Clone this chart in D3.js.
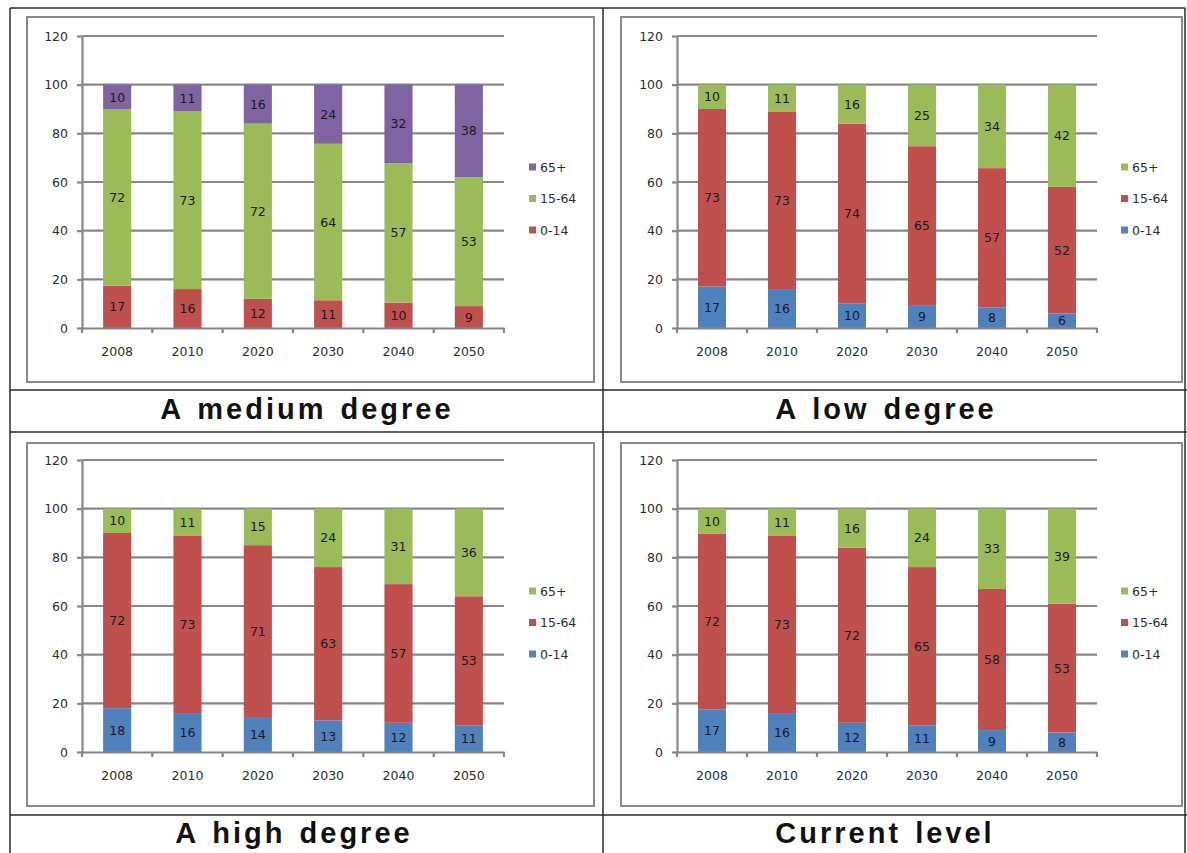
<!DOCTYPE html>
<html>
<head>
<meta charset="utf-8">
<script src="https://cdn.jsdelivr.net/npm/d3@7"></script>
<style>
  html, body { margin: 0; padding: 0; background: #fff; }
  svg { display: block; }
</style>
</head>
<body>
<svg id="chart" width="1187" height="853"></svg>
<script>
// ---------- DATA ----------
const years = ["2008", "2010", "2020", "2030", "2040", "2050"];
const yTicks = [0, 20, 40, 60, 80, 100, 120];
const groups = ["0-14", "15-64", "65+"];
const titles = ["A medium degree", "A low degree", "A high degree", "Current level"];

// A medium degree
const mediumKids = [17.4, 16, 12, 11.4, 10.4, 9];
const mediumWork = [72.4, 73, 72, 64.3, 57.3, 53];
const mediumOld  = [10.2, 11, 16, 24.3, 32.3, 38];
// A low degree
const lowKids = [17, 16, 10, 9.4, 8.4, 6];
const lowWork = [73, 73, 74, 65.3, 57.3, 52];
const lowOld  = [10, 11, 16, 25.3, 34.3, 42];
// A high degree
const highKids = [18, 16, 14, 13, 12, 11];
const highWork = [72, 73, 71, 63, 57, 53];
const highOld  = [10, 11, 15, 24, 31, 36];
// Current level
const currentKids = [17.4, 16, 12, 11, 9, 8];
const currentWork = [72.4, 73, 72, 65, 58, 53];
const currentOld  = [10.2, 11, 16, 24, 33, 39];

// colours per panel (0-14, 15-64, 65+)
const mediumColors = ["#C0504D", "#9BBB59", "#8064A2"];
const otherColors  = ["#4F81BD", "#C0504D", "#9BBB59"];

// ---------- LAYOUT ----------
const svg = d3.select("#chart");
const cols = [
  { cellX0: 10, cellX1: 603, boxX0: 27, boxX1: 594, axX0: 82, axX1: 504, legX: 529 },
  { cellX0: 603, cellX1: 1185, boxX0: 621, boxX1: 1182, axX0: 677, axX1: 1097, legX: 1121 }
];
const rows = [
  { boxY0: 17, boxY1: 382, y0: 328, y120: 36, legY: 167, titleY: 419 },
  { boxY0: 443, boxY1: 806, y0: 752, y120: 460, legY: 591, titleY: 843 }
];
const panels = [
  { title: titles[0], series: [mediumKids, mediumWork, mediumOld], colors: mediumColors, col: 0, row: 0, titleCx: 307 },
  { title: titles[1], series: [lowKids, lowWork, lowOld], colors: otherColors, col: 1, row: 0, titleCx: 886 },
  { title: titles[2], series: [highKids, highWork, highOld], colors: otherColors, col: 0, row: 1, titleCx: 294 },
  { title: titles[3], series: [currentKids, currentWork, currentOld], colors: otherColors, col: 1, row: 1, titleCx: 885 }
];

const gridColor = "#878787";
const tickFont = "DejaVu Sans, Verdana, sans-serif";

// ---------- TABLE LINES ----------
const tbl = svg.append("g").attr("stroke", "#2a2a2a").attr("stroke-width", 1.5).attr("fill", "none");
tbl.append("line").attr("x1", 10).attr("x2", 1185).attr("y1", 8).attr("y2", 8);
[390, 432, 815].forEach(y => tbl.append("line").attr("x1", 10).attr("x2", 1187).attr("y1", y).attr("y2", y));
[10, 603, 1185].forEach(x => tbl.append("line").attr("x1", x).attr("x2", x).attr("y1", 8).attr("y2", 853));

// ---------- PANELS ----------
panels.forEach(p => {
  const c = cols[p.col], r = rows[p.row];
  const g = svg.append("g");

  // inner chart box
  g.append("rect")
    .attr("x", c.boxX0).attr("y", r.boxY0)
    .attr("width", c.boxX1 - c.boxX0).attr("height", r.boxY1 - r.boxY0)
    .attr("fill", "#fff").attr("stroke", "#8a8a8a").attr("stroke-width", 2);

  const x = d3.scaleBand().domain(years).range([c.axX0, c.axX1])
    .paddingInner(0.6).paddingOuter(0.3);
  const y = d3.scaleLinear().domain([0, 120]).range([r.y0, r.y120]);

  // gridlines
  g.append("g").selectAll("line").data(yTicks.filter(t => t > 0)).join("line")
    .attr("x1", c.axX0).attr("x2", c.axX1)
    .attr("y1", d => y(d)).attr("y2", d => y(d))
    .attr("stroke", gridColor).attr("stroke-width", 2.2);

  // stacked data
  const rowsData = years.map((yr, i) => {
    const o = { year: yr };
    groups.forEach((gr, k) => o[gr] = p.series[k][i]);
    return o;
  });
  const stack = d3.stack().keys(groups)(rowsData);

  const layers = g.append("g").selectAll("g").data(stack).join("g")
    .attr("fill", (d, k) => p.colors[k]);
  layers.selectAll("rect").data(d => d).join("rect")
    .attr("x", d => x(d.data.year))
    .attr("width", x.bandwidth())
    .attr("y", d => y(d[1]))
    .attr("height", d => y(d[0]) - y(d[1]));

  // data labels
  const lab = g.append("g").selectAll("g").data(stack).join("g");
  lab.selectAll("text").data(d => d.map(v => ({ v, key: d.key }))).join("text")
    .attr("x", d => x(d.v.data.year) + x.bandwidth() / 2)
    .attr("y", d => (y(d.v[0]) + y(d.v[1])) / 2)
    .attr("dy", "0.36em")
    .attr("text-anchor", "middle")
    .attr("font-family", tickFont).attr("font-size", 12.5)
    .attr("fill", "#1a1a24")
    .text(d => Math.round(d.v.data[d.key]));

  // y axis
  const yAxis = d3.axisLeft(y).tickValues(yTicks).tickSizeInner(5).tickSizeOuter(0).tickPadding(9);
  const ya = g.append("g").attr("transform", `translate(${c.axX0},0)`).call(yAxis);
  ya.select(".domain").attr("stroke", gridColor).attr("stroke-width", 2.2);
  ya.selectAll(".tick line").attr("stroke", gridColor).attr("stroke-width", 2.2);
  ya.selectAll(".tick text").attr("font-family", tickFont).attr("font-size", 12.5).attr("fill", "#2e2e2e");

  // x axis
  const xAxis = d3.axisBottom(x).tickSize(0).tickPadding(19);
  const xa = g.append("g").attr("transform", `translate(0,${r.y0})`).call(xAxis);
  xa.select(".domain").attr("stroke", gridColor).attr("stroke-width", 2.2);
  xa.selectAll(".tick text").attr("font-family", tickFont).attr("font-size", 12.5).attr("fill", "#2e2e2e");
  const gap = (x.step() - x.bandwidth()) / 2;
  const bounds = years.map(yr => x(yr) - gap).concat([x(years[years.length - 1]) + x.bandwidth() + gap]);
  g.append("g").selectAll("line").data(bounds).join("line")
    .attr("x1", d => d).attr("x2", d => d)
    .attr("y1", r.y0).attr("y2", r.y0 + 5)
    .attr("stroke", gridColor).attr("stroke-width", 2.2);

  // legend
  const legOrder = groups.slice().reverse();
  const leg = g.append("g").selectAll("g").data(legOrder).join("g")
    .attr("transform", (d, i) => `translate(${c.legX},${r.legY + i * 31.5})`);
  leg.append("rect").attr("x", 0).attr("y", -3.5).attr("width", 7).attr("height", 7)
    .attr("fill", d => p.colors[groups.indexOf(d)]);
  leg.append("text").attr("x", 11).attr("dy", "0.36em")
    .attr("font-family", tickFont).attr("font-size", 12.5).attr("fill", "#2e2e2e")
    .text(d => d);

  // title
  svg.append("text")
    .attr("x", p.titleCx).attr("y", r.titleY)
    .attr("text-anchor", "middle")
    .attr("font-family", "Liberation Sans, Arial, sans-serif")
    .attr("font-weight", "bold").attr("font-size", 29)
    .attr("letter-spacing", "3px").attr("word-spacing", "3px")
    .attr("fill", "#111")
    .text(p.title);
});
</script>
</body>
</html>
